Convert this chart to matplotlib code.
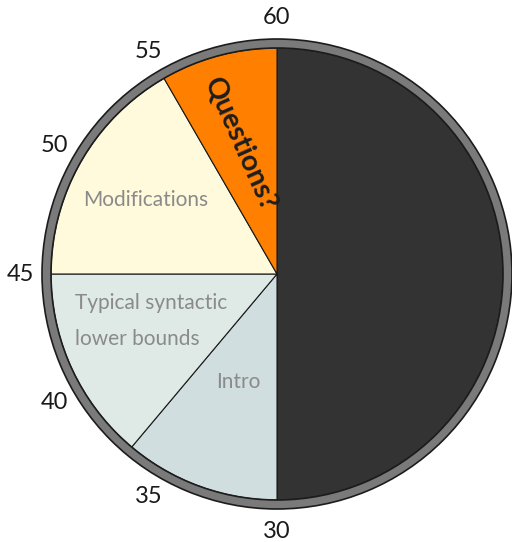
import matplotlib
matplotlib.use("Agg")
import matplotlib.pyplot as plt
from matplotlib.patches import Wedge
import numpy as np

# Talk schedule on a 60-minute clock face (minutes, clockwise from the top)
segments = ["", "Intro", "Typical syntactic\nlower bounds", "Modifications", "Questions?"]
minutes = [30, 6.67, 8.33, 10, 5]
colors = ["#333333", "#d1dee0", "#dfeae6", "#fffadb", "#ff8000"]
clock_ticks = [30, 35, 40, 45, 50, 55, 60]

W, H = 512, 542
fig = plt.figure(figsize=(W / 100, H / 100), dpi=100)
ax = fig.add_axes([0, 0, 1, 1])

cx, cy = 277, H - 274
R = 226


def py(y):
    return H - y


wedges, _ = ax.pie(minutes, colors=colors, startangle=90, counterclock=False,
                   center=(cx, cy), radius=R,
                   wedgeprops=dict(edgecolor="#1a1a1a", linewidth=0.8))

# Clock rim
ax.add_patch(Wedge((cx, cy), 235, 0, 360, width=9, facecolor="#7a7a7a",
                   edgecolor="#1c1c1c", linewidth=1.2, zorder=5))

# Minute labels around the rim
for m in clock_ticks:
    th = np.deg2rad(m * 6)
    ax.text(cx + 257 * np.sin(th), cy + 257 * np.cos(th), str(m),
            ha="center", va="center", fontsize=17, family="Lato", color="#1a1a1a")

label_kw = dict(family="Lato", fontsize=15, color="#8a8a8a")
ax.text(146, py(200), segments[3], ha="center", va="center", **label_kw)
ax.text(75, py(303), "Typical syntactic", ha="left", va="center", **label_kw)
ax.text(75, py(339), "lower bounds", ha="left", va="center", **label_kw)
ax.text(238, py(382), segments[1], ha="center", va="center", **label_kw)
ax.text(240, py(144), segments[4], ha="center", va="center", rotation=-66,
        rotation_mode="anchor", family="Lato", fontsize=20.5, fontweight="bold",
        color="#1e1e1e")

ax.set_xlim(0, W)
ax.set_ylim(0, H)
ax.set_aspect("equal")
ax.axis("off")

fig.savefig("out.png", dpi=100, facecolor="white")
